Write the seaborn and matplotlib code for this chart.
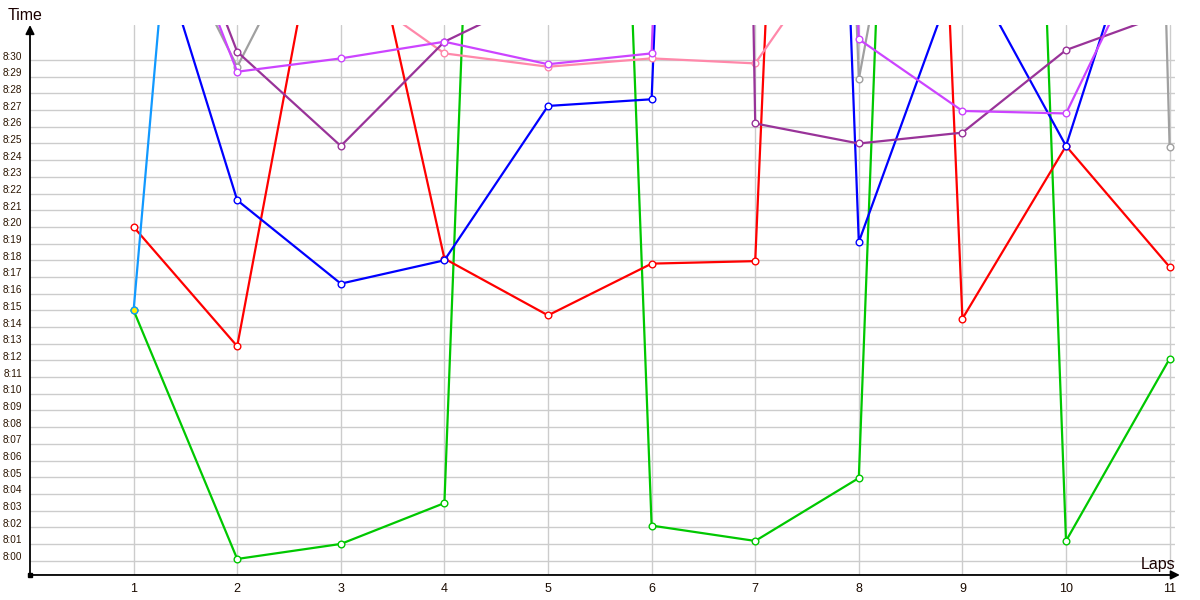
import numpy as np
import pandas as pd
import matplotlib
matplotlib.use('Agg')
import matplotlib.pyplot as plt
import matplotlib.transforms as mtrans
import seaborn as sns

nan = np.nan
laps = list(range(1, 12))

# minutes after 8:00 at each lap; anything above ~32 runs off the top of the chart
green = [15.0, 0.1, 1.0, 3.45, 167.0, 2.1, 1.18, 4.95, 170.0, 1.18, 12.1]
red = [20.0, 12.85, 46.0, 18.1, 14.7, 17.8, 17.95, 161.0, 14.5, 24.85, 17.6]
blue = [41.6, 21.6, 16.6, 18.0, 27.25, 27.65, 184.0, 19.1, 36.2, 24.85, 44.2]
magenta = [45.4, 29.3, 30.1, 31.1, 29.75, 30.4, 190.0, 31.25, 26.95, 26.8, 39.6]
purple = [46.6, 30.5, 24.85, 31.1, 34.1, 386.0, 26.2, 25.0, 25.65, 30.6, 32.85]
gray = [42.0, 29.6, 41.7, 55.0, 80.0, 130.0, 196.0, 28.85, 62.4, 252.0, 24.8]
pink = [nan, nan, 34.8, 30.4, 29.6, 30.1, 29.8, 38.7, nan, nan, nan]
light_blue = [15.0, 86.0, nan, nan, nan, nan, nan, nan, nan, nan, nan]

series = {
    'green': (green, '#00c800'),
    'red': (red, '#ff0000'),
    'blue': (blue, '#0000ff'),
    'gray': (gray, '#a0a0a0'),
    'pink': (pink, '#ff88aa'),
    'purple': (purple, '#993399'),
    'magenta': (magenta, '#cc44ff'),
    'light_blue': (light_blue, '#1199ff'),
}

tick_minutes = list(range(0, 31))
tick_labels = ['8:%02d' % m for m in tick_minutes]

rows = []
for name, (vals, col) in series.items():
    for lap, v in zip(laps, vals):
        rows.append({'Driver': name, 'Lap': lap, 'Minutes': v})
df = pd.DataFrame(rows).dropna()

sns.set_style("white")
plt.rcParams['font.family'] = ['Liberation Sans', 'DejaVu Sans']

fig, ax = plt.subplots(figsize=(12, 6), dpi=100)
fig.subplots_adjust(left=0.025, right=0.979, bottom=0.0417, top=0.9583)

palette = {name: col for name, (vals, col) in series.items()}
sns.lineplot(data=df, x='Lap', y='Minutes', hue='Driver', hue_order=list(series.keys()),
             palette=palette, marker='o', markersize=4.8, linewidth=1.6,
             errorbar=None, legend=False, ax=ax)

for line in ax.lines:
    c = line.get_color()
    line.set_markerfacecolor('white')
    line.set_markeredgecolor(c)
    line.set_markeredgewidth(1.0)
ax.lines[-1].set_markerfacecolor('#ffee00')

ax.set_xlim(0, 11.05)
ax.set_ylim(-0.86, 32.1)
ax.set_xticks(laps)
ax.set_xticklabels([str(l) for l in laps])
ax.set_yticks(tick_minutes)
ax.set_yticklabels(tick_labels)
ax.set_xlabel('')
ax.set_ylabel('')
ax.grid(True, color='#cccccc', linewidth=1)
ax.tick_params(axis='x', length=0, pad=5.5, labelsize=9, labelcolor='#1a0a00')
ax.tick_params(axis='y', length=0, pad=5.5, labelsize=7.2, labelcolor='#2a1400')
sns.despine(ax=ax, left=True, bottom=True)

shift = mtrans.ScaledTranslation(0, 0.045, fig.dpi_scale_trans)
for lbl in ax.get_yticklabels():
    lbl.set_transform(lbl.get_transform() + shift)

# axis arrows
ax.annotate('', xy=(0, 1.0), xytext=(0, 0), xycoords='axes fraction',
            arrowprops=dict(arrowstyle='-|>', color='black', lw=1.3,
                            mutation_scale=13, shrinkA=0, shrinkB=0))
ax.annotate('', xy=(1.0044, 0), xytext=(0, 0), xycoords='axes fraction',
            arrowprops=dict(arrowstyle='-|>', color='black', lw=1.3,
                            mutation_scale=13, shrinkA=0, shrinkB=0))
ax.plot([0], [0], marker='s', markersize=3, color='black',
        transform=ax.transAxes, clip_on=False)

fig.text(8 / 1200, 1 - 15 / 600, 'Time', fontsize=11.5, ha='left', va='center', color='#1a0000')
fig.text(1175 / 1200, 1 - 564 / 600, 'Laps', fontsize=11.5, ha='right', va='center', color='#1a0000')

fig.savefig('out.png', dpi=100)
